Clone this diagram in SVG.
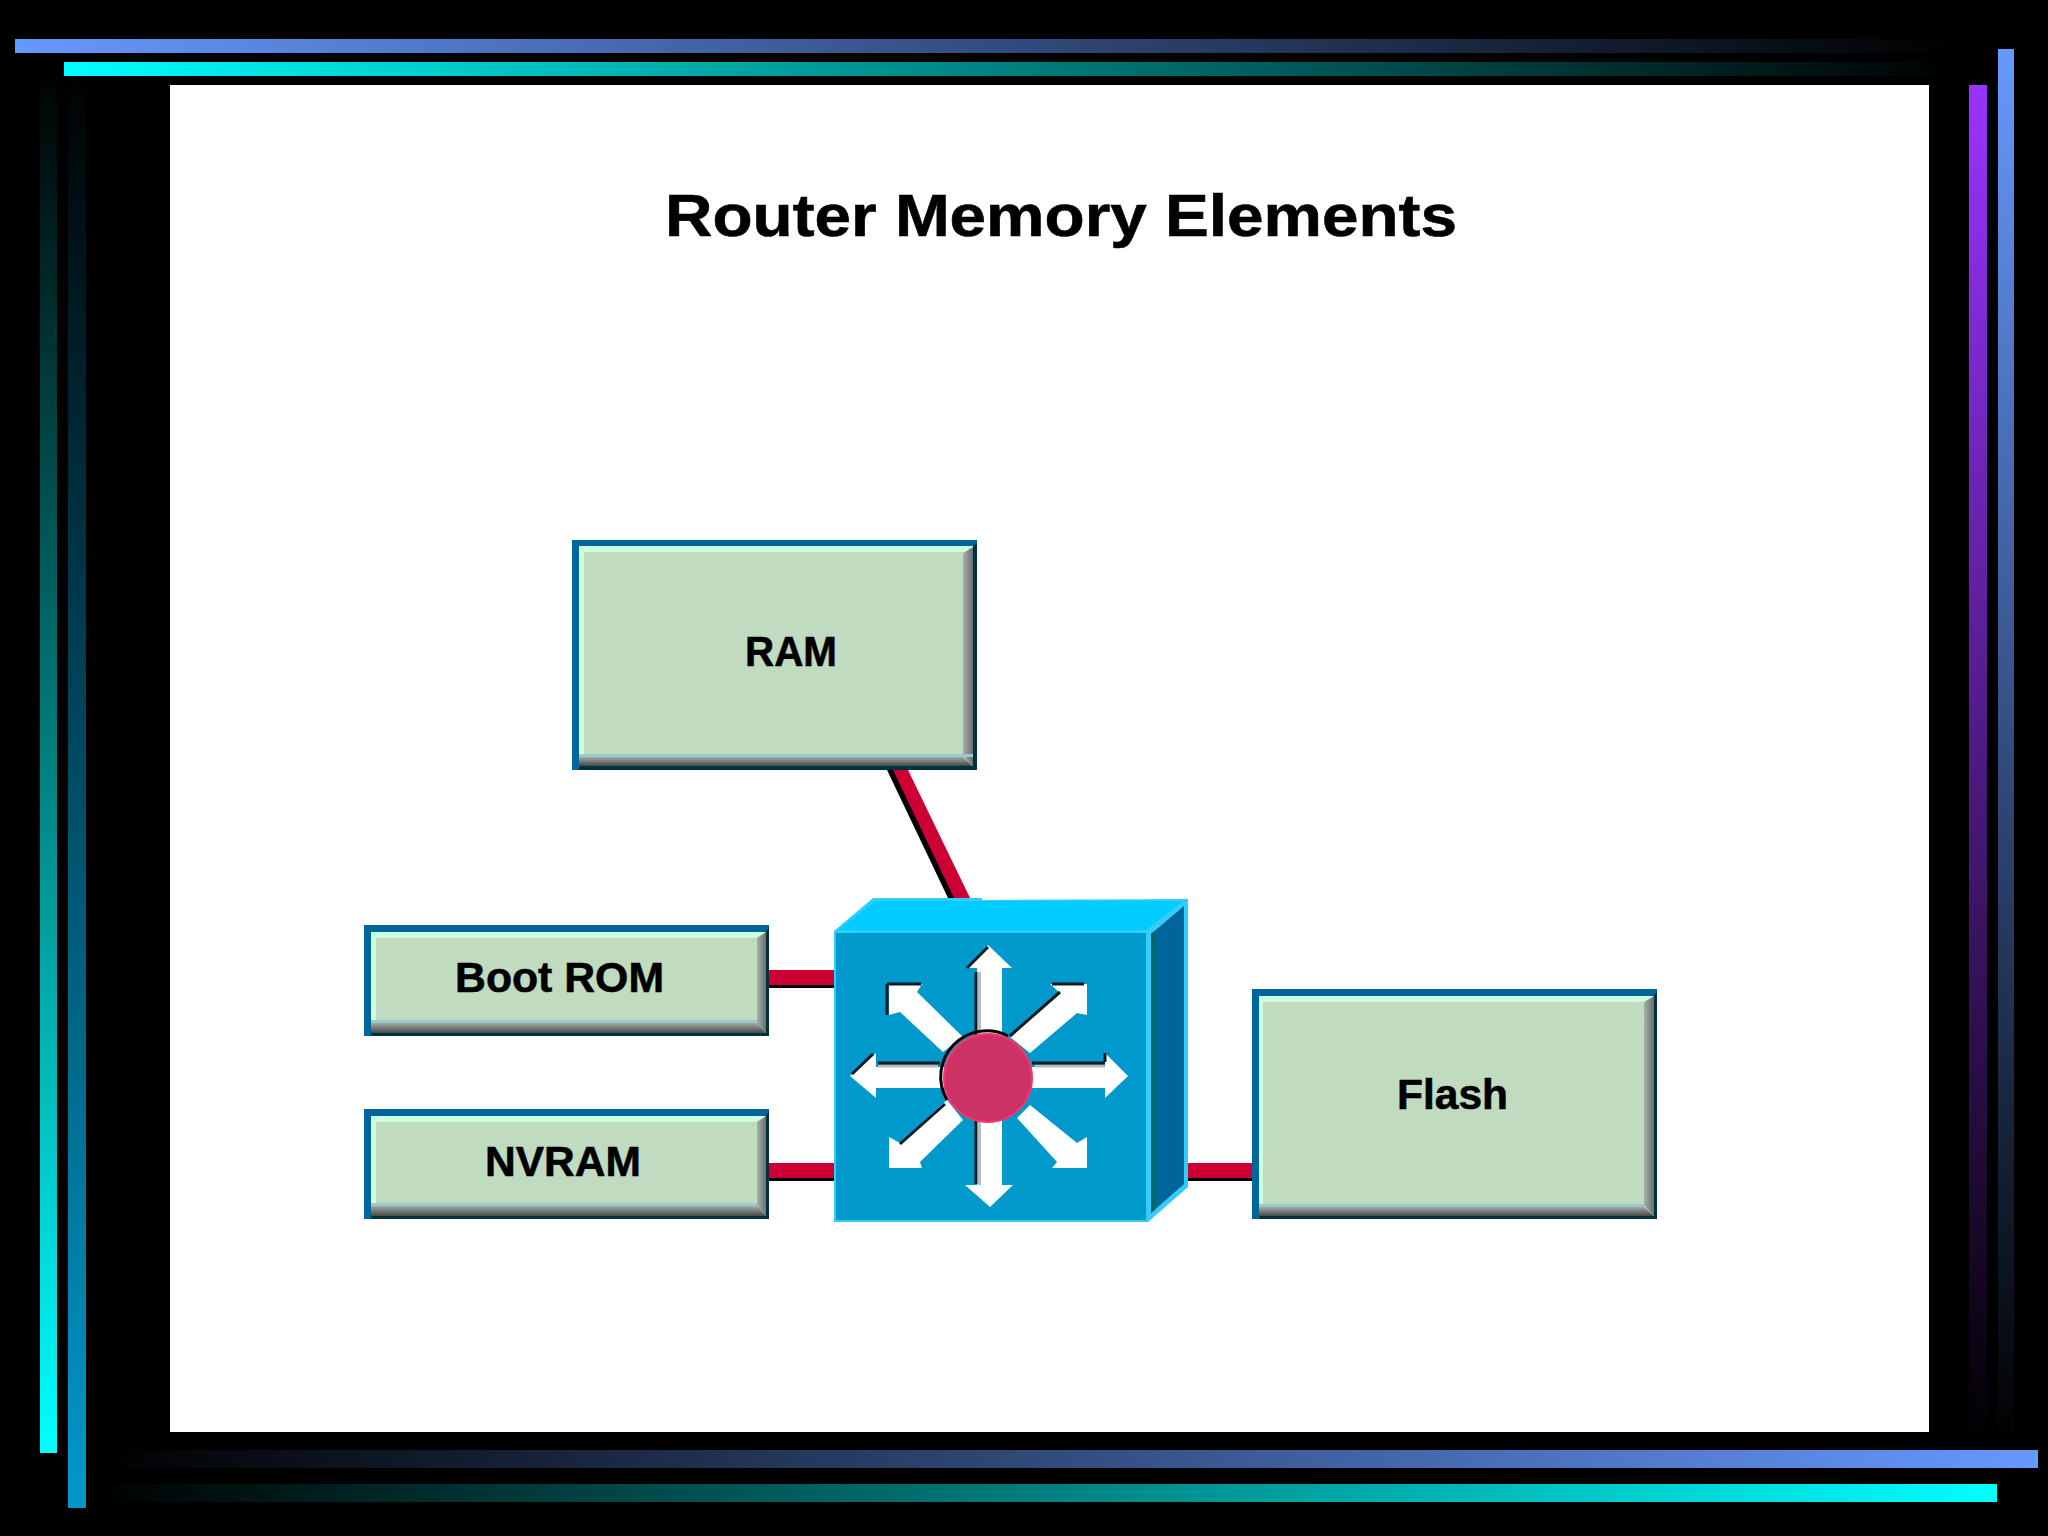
<svg xmlns="http://www.w3.org/2000/svg" width="2048" height="1536" viewBox="0 0 2048 1536">
<style>
.t{font-family:"Liberation Sans",Arial,sans-serif;font-weight:700;fill:#000;stroke:#000;stroke-width:.6}
.lb{font-size:43px}
.edge{fill:#006699}.dark{fill:#00303c}.gr{fill:url(#gr)}.hi{fill:#ccffdd}.body{fill:#c0dbbf}.sh{fill:#99cccc}.bot{fill:url(#gb)}
.red{fill:#cc0033}.blk{fill:#000}
.ar{fill:#fff}.ln{fill:none;stroke:#0a1a20;stroke-width:3}.gl{fill:none;stroke:#b8bcbc;stroke-width:3}
.soft{filter:url(#soft)}
</style>
<defs>
<filter id="soft" x="-5%" y="-5%" width="110%" height="110%"><feGaussianBlur stdDeviation="0.7"/></filter>
<linearGradient id="h1"><stop offset="0" stop-color="#6699ff"/><stop offset="1" stop-color="#000"/></linearGradient>
<linearGradient id="h2"><stop offset="0" stop-color="#00ffff"/><stop offset="1" stop-color="#000"/></linearGradient>
<linearGradient id="h3"><stop offset="0" stop-color="#000"/><stop offset="1" stop-color="#6699ff"/></linearGradient>
<linearGradient id="h4"><stop offset="0" stop-color="#000"/><stop offset="1" stop-color="#00ffff"/></linearGradient>
<linearGradient id="v1" x2="0" y2="1"><stop offset="0" stop-color="#000"/><stop offset="1" stop-color="#00ffff"/></linearGradient>
<linearGradient id="v2" x2="0" y2="1"><stop offset="0" stop-color="#000"/><stop offset="1" stop-color="#0099cc"/></linearGradient>
<linearGradient id="v3" x2="0" y2="1"><stop offset="0" stop-color="#9933ff"/><stop offset="1" stop-color="#000"/></linearGradient>
<linearGradient id="v4" x2="0" y2="1"><stop offset="0" stop-color="#6699ff"/><stop offset="1" stop-color="#000"/></linearGradient>
<linearGradient id="gb" x2="0" y2="1"><stop offset="0" stop-color="#a3aaa6"/><stop offset="1" stop-color="#444a4a"/></linearGradient>
<linearGradient id="gr"><stop offset="0" stop-color="#a8aeaa"/><stop offset="1" stop-color="#6a7070"/></linearGradient>
</defs>
<rect width="2048" height="1536" fill="#000"/>
<g id="frame">
<rect x="40" y="63" width="17" height="1390" fill="url(#v1)"/>
<rect x="68" y="63" width="18" height="1445" fill="url(#v2)"/>
<rect x="1969" y="85" width="18" height="1362" fill="url(#v3)"/>
<rect x="1998" y="49" width="16" height="1398" fill="url(#v4)"/>
<rect x="15" y="39" width="1945" height="14" fill="url(#h1)"/>
<rect x="64" y="62" width="1890" height="14" fill="url(#h2)"/>
<rect x="100" y="1450" width="1938" height="18" fill="url(#h3)"/>
<rect x="95" y="1484" width="1902" height="18" fill="url(#h4)"/>
<rect x="170" y="85" width="1759" height="1347" fill="#fff"/>
</g>
<text class="t" x="665" y="236" font-size="60" textLength="792" lengthAdjust="spacingAndGlyphs">Router Memory Elements</text>
<g id="connectors" class="soft">
<polygon class="blk" points="887,770 895,770 956,898 948,898"/>
<polygon class="red" points="893,770 908,770 970,898 954,898"/>
<rect class="blk" x="769" y="970" width="66" height="18"/><rect class="red" x="769" y="970" width="66" height="15"/>
<rect class="blk" x="769" y="1163" width="66" height="18"/><rect class="red" x="769" y="1163" width="66" height="15"/>
<rect class="blk" x="1187" y="1163" width="65" height="18"/><rect class="red" x="1187" y="1163" width="65" height="15"/>
</g>
<g id="ram">
<g class="soft">
<rect class="edge" x="572" y="540" width="405" height="230"/>
<polygon class="dark" points="977,543 977,770 579,770 579,766 973,766 973,546"/>
<rect class="hi" x="579" y="546" width="394" height="220"/>
<polygon class="gr" points="973,547 973,766 963,756 963,553"/>
<rect class="sh" x="579" y="754" width="394" height="3"/><polygon class="bot" points="579,757 963,757 973,766 579,766"/>
<rect class="body" x="584" y="552" width="379" height="202"/>
</g>
<text class="t lb" x="745" y="666" textLength="92" lengthAdjust="spacingAndGlyphs">RAM</text>
</g>
<g id="boot-rom">
<g class="soft">
<rect class="edge" x="364" y="925" width="405" height="111"/>
<polygon class="dark" points="769,928 769,1036 371,1036 371,1033 766,1033 766,931"/>
<rect class="hi" x="371" y="932" width="395" height="101"/>
<polygon class="gr" points="766,932 766,1033 757,1023 757,938"/>
<rect class="sh" x="371" y="1020" width="386" height="3"/><polygon class="bot" points="371,1023 757,1023 766,1033 371,1033"/>
<rect class="body" x="376" y="938" width="381" height="82"/>
</g>
<text class="t lb" x="455" y="992" textLength="209" lengthAdjust="spacingAndGlyphs">Boot ROM</text>
</g>
<g id="nvram">
<g class="soft">
<rect class="edge" x="364" y="1109" width="405" height="110"/>
<polygon class="dark" points="769,1112 769,1219 371,1219 371,1216 766,1216 766,1115"/>
<rect class="hi" x="371" y="1116" width="395" height="100"/>
<polygon class="gr" points="766,1116 766,1216 757,1206 757,1122"/>
<rect class="sh" x="371" y="1203" width="386" height="3"/><polygon class="bot" points="371,1206 757,1206 766,1216 371,1216"/>
<rect class="body" x="376" y="1122" width="381" height="81"/>
</g>
<text class="t lb" x="485" y="1176" textLength="156" lengthAdjust="spacingAndGlyphs">NVRAM</text>
</g>
<g id="flash">
<g class="soft">
<rect class="edge" x="1252" y="989" width="405" height="230"/>
<polygon class="dark" points="1657,992 1657,1219 1259,1219 1259,1216 1654,1216 1654,995"/>
<rect class="hi" x="1259" y="996" width="395" height="220"/>
<polygon class="gr" points="1654,996 1654,1216 1644,1206 1644,1002"/>
<rect class="sh" x="1259" y="1204" width="385" height="3"/><polygon class="bot" points="1259,1207 1644,1207 1654,1216 1259,1216"/>
<rect class="body" x="1263" y="1002" width="381" height="202"/>
</g>
<text class="t lb" x="1397" y="1109" textLength="111" lengthAdjust="spacingAndGlyphs">Flash</text>
</g>
<g id="router" class="soft">
<polygon points="834,931 873,898 982,898 982,900 1188,899 1188,1187 1148,1222 834,1222" fill="#33ccff"/>
<polygon points="838,930 875,901 1183,901 1146,930" fill="#00ccff"/>
<polygon points="1151,934 1184,906 1184,1184 1151,1213" fill="#006699"/>
<polygon points="1151,934 1155,931 1155,1210 1151,1213" fill="#006666"/>
<rect x="836" y="933" width="310" height="287" fill="#0099cc"/>
<g id="router-arrows">
<polygon class="ar" points="988,945 1012,968 1002,968 1002,1185 1013,1185 990,1207 965,1185 977,1185 977,968 967,968"/>
<polygon class="ar" points="850,1076 876,1053 876,1067 1105,1067 1105,1053 1128,1076 1105,1098 1105,1088 876,1088 876,1098"/>
<polygon class="ar" points="889,984 922,984 917,992 963,1037 943,1052 900,1012 889,1015"/>
<polygon class="ar" points="1087,984 1050,984 1060,993 1010,1037 1030,1053 1077,1013 1087,1015"/>
<polygon class="ar" points="889,1168 889,1137 900,1143 947,1100 963,1120 920,1162 922,1168"/>
<polygon class="ar" points="1087,1168 1087,1137 1077,1143 1030,1105 1017,1118 1057,1162 1052,1168"/>
<path class="gl" d="M979.500 972V1034M979.500 1120V1185M878 1066H938M1035 1066H1105"/>
<path class="ln" d="M976 972V1036M976 1120V1184M878 1063H940M1032 1063H1105M967 968L988 947M852 1074L873 1054M1060 992L1010 1036M900 1144L945 1104M887 984H921M1052 984H1084M887 984V1015M1105 1053V1062"/>
</g>
<path d="M947 1100A46 46 0 0 1 1008 1036" fill="none" stroke="#000" stroke-width="3"/>
<circle cx="988" cy="1078" r="44" fill="#cc3366" stroke="#ff3366" stroke-width="2"/>
</g>
</svg>
